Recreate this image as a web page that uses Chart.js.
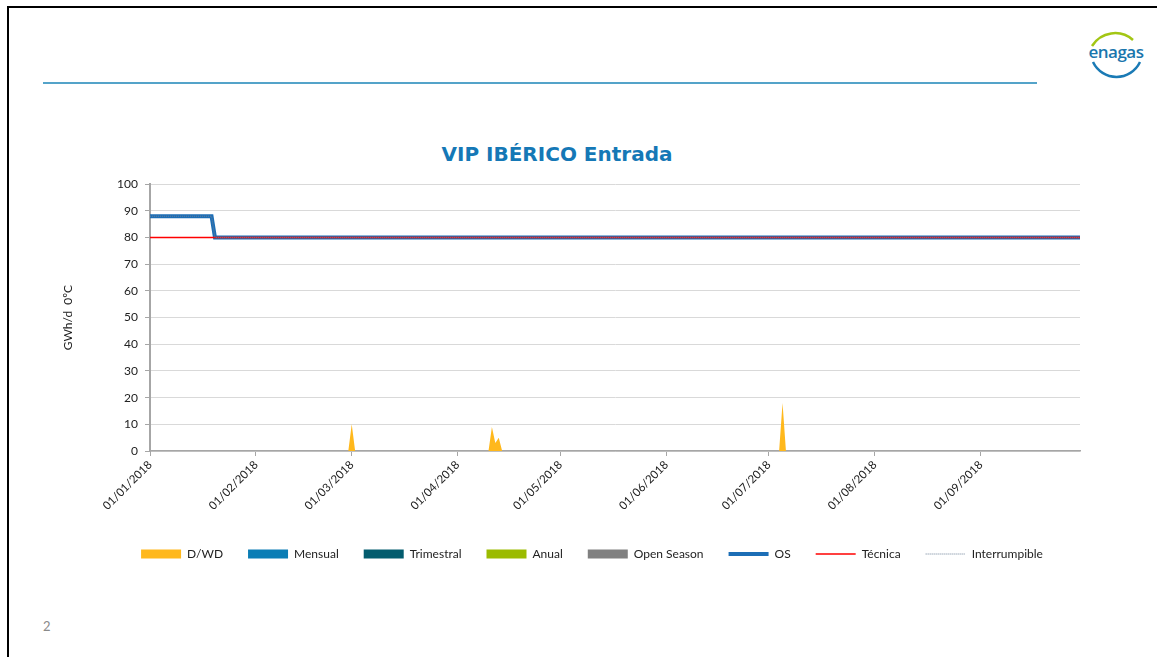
<!DOCTYPE html>
<html>
<head>
<meta charset="utf-8">
<script src="https://cdn.jsdelivr.net/npm/chart.js@4/dist/chart.umd.min.js"></script>
<style>
  body { margin: 0; background: #fff; width: 1157px; height: 657px; overflow: hidden; position: relative; }
  .frame { position: absolute; left: 7px; top: 6px; right: -4px; bottom: -4px; border-top: 2px solid #000; border-left: 2px solid #000; }
  .rule { position: absolute; left: 43px; top: 82px; width: 994px; height: 2px; background: #54a3c9; }
  .logo { position: absolute; left: 1084px; top: 28px; }
  .title { position: absolute; left: 357px; width: 400px; top: 142px; text-align: center;
           font: bold 20px "DejaVu Sans", sans-serif; color: #1578b6; }
  .wrap { position: absolute; left: 40px; top: 170px; width: 1104px; height: 405px; }
  .pagenum { position: absolute; left: 43px; top: 618px; font: 13px Lato, sans-serif; color: #8a8a8a; }
</style>
</head>
<body>
<div class="frame"></div>
<div class="rule"></div>
<svg class="logo" width="66" height="54" viewBox="0 0 66 54">
  <path d="M8 18 A27 27 0 0 1 49 12" fill="none" stroke="#a3c614" stroke-width="2.5"/>
  <path d="M9 34 A26 26 0 0 0 56 34" fill="none" stroke="#1a7ab5" stroke-width="2.5"/>
  <text x="32" y="30" text-anchor="middle" font-family="Open Sans, sans-serif" font-size="17" font-weight="600" fill="#1a76ad" letter-spacing="-0.5">enagas</text>
</svg>
<div class="title">VIP IBÉRICO Entrada</div>
<div class="wrap"><canvas id="myChart"></canvas></div>
<div class="pagenum">2</div>
<script>
// axis range and month ticks
const startDay = '2018-01-01';
const endDay = '2018-09-30';
const tickDates = ['2018-01-01', '2018-02-01', '2018-03-01', '2018-04-01', '2018-05-01',
                   '2018-06-01', '2018-07-01', '2018-08-01', '2018-09-01'];

// D/WD (only the days around the spikes, zero everywhere else)
const dwdDates = ['2018-01-01', '2018-02-28', '2018-03-01', '2018-03-02',
                  '2018-04-10', '2018-04-11', '2018-04-12', '2018-04-13', '2018-04-14',
                  '2018-07-04', '2018-07-05', '2018-07-06', '2018-09-30'];
const dwdValues = [0, 0, 10, 0, 0, 9, 3, 5, 0, 0, 18, 0, 0];

// products with no capacity in the period
const flatDates = ['2018-01-01', '2018-09-30'];
const mensualValues = [0, 0];
const trimestralValues = [0, 0];
const anualValues = [0, 0];
const openSeasonValues = [0, 0];

// OS / Técnica / Interrumpible
const osDates = ['2018-01-01', '2018-01-19', '2018-01-20', '2018-09-30'];
const osValues = [88, 88, 80, 80];
const tecnicaValues = [80, 80];
const interrumpibleValues = [88, 88, 80, 80];

function dayIndex(s) {
     var p = s.split('-');
     return (Date.UTC(+p[0], +p[1] - 1, +p[2]) - Date.UTC(2018, 0, 1)) / 86400000;
}
function toPoints(dates, values) {
     return dates.map(function (d, i) { return { x: dayIndex(d), y: values[i] }; });
}
function fmtDay(v) {
     var d = new Date(Date.UTC(2018, 0, 1) + v * 86400000);
     var dd = d.getUTCDate(), mm = d.getUTCMonth() + 1;
     return (dd < 10 ? '0' : '') + dd + '/' + (mm < 10 ? '0' : '') + mm + '/' + d.getUTCFullYear();
}
function area(label, color, dates, values) {
     return { label: label, data: toPoints(dates, values), fill: 'origin', backgroundColor: color,
              borderColor: color, borderWidth: 0, pointRadius: 0, order: 3 };
}
function line(label, color, width, dates, values, dash, order) {
     return { label: label, data: toPoints(dates, values), fill: false, borderColor: color,
              backgroundColor: color, borderWidth: width, borderDash: dash, pointRadius: 0, order: order };
}

const font = 'Lato, sans-serif';
new Chart('myChart', {
     type: 'line',
     data: {
          datasets: [
               area('D/WD', '#ffb81c', dwdDates, dwdValues),
               area('Mensual', '#0b7db5', flatDates, mensualValues),
               area('Trimestral', '#035c6e', flatDates, trimestralValues),
               area('Anual', '#9bbb00', flatDates, anualValues),
               area('Open Season', '#808080', flatDates, openSeasonValues),
               line('OS', '#1c6eb6', 4, osDates, osValues, [], 2),
               line('Técnica', '#ff0000', 1.5, flatDates, tecnicaValues, [], 1),
               line('Interrumpible', '#6b7f96', 1, osDates, interrumpibleValues, [1, 1], 0)
          ]
     },
     options: {
          responsive: true,
          maintainAspectRatio: false,
          animation: false,
          elements: { line: { tension: 0 } },
          // left padding keeps the legend centred where the slide has it
          layout: { padding: { top: 10, right: 64, bottom: 5, left: 64 } },
          scales: {
               x: {
                    type: 'linear',
                    min: dayIndex(startDay),
                    max: dayIndex(endDay),
                    afterBuildTicks: function (s) { s.ticks = tickDates.map(function (d) { return { value: dayIndex(d) }; }); },
                    afterFit: function (s) { s.height = 72; },
                    ticks: { autoSkip: false, minRotation: 45, maxRotation: 45, padding: 2,
                             font: { family: font, size: 11.5 }, color: '#222',
                             callback: function (v) { return fmtDay(v); } },
                    grid: { drawOnChartArea: false, tickLength: 5, color: '#a6a6a6' },
                    border: { color: '#a6a6a6', width: 1.5 }
               },
               y: {
                    min: 0, max: 100,
                    afterFit: function (s) { s.width = 46; },
                    ticks: { stepSize: 10, padding: 7, font: { family: font, size: 12 }, color: '#222' },
                    grid: { color: '#d9d9d9', tickColor: '#a6a6a6', tickLength: 5 },
                    border: { color: '#a6a6a6', width: 2 },
                    title: { display: true, text: 'GWh/d  0ºC', font: { family: font, size: 12 }, color: '#222',
                             padding: { top: -43, bottom: 0 } }
               }
          },
          plugins: {
               title: { display: false },
               tooltip: { enabled: false },
               legend: {
                    position: 'bottom',
                    labels: {
                         usePointStyle: true, pointStyleWidth: 40, boxHeight: 9, padding: 25,
                         font: { family: font, size: 12 }, color: '#222',
                         generateLabels: function (chart) {
                              return chart.data.datasets.map(function (ds, i) {
                                   return { text: ds.label, datasetIndex: i, hidden: false,
                                            fillStyle: ds.backgroundColor, strokeStyle: ds.borderColor,
                                            lineWidth: ds.fill ? 0 : ds.borderWidth, lineDash: ds.borderDash || [],
                                            pointStyle: ds.fill ? 'rect' : 'line', fontColor: '#222' };
                              });
                         }
                    }
               }
          }
     }
});
</script>
</body>
</html>
